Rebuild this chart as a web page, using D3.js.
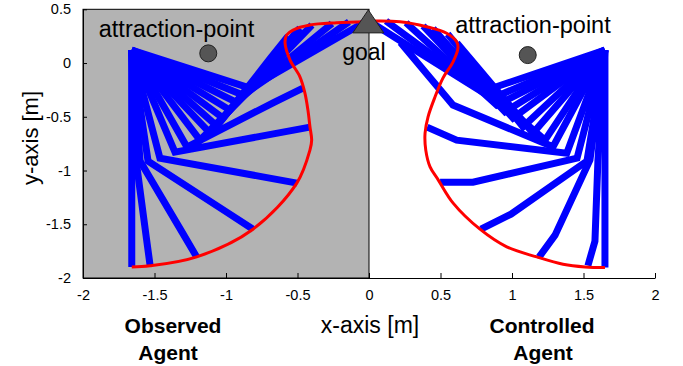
<!DOCTYPE html>
<html><head><meta charset="utf-8">
<script src="https://cdn.jsdelivr.net/npm/d3@7"></script>
<style>body{margin:0;background:#fff}svg{display:block}</style>
</head><body><svg id="c" width="683" height="366"></svg>
<script>
// ---- data ----
const xTicks = [-2, -1.5, -1, -0.5, 0, 0.5, 1, 1.5, 2];
const yTicks = [0.5, 0, -0.5, -1, -1.5, -2];

const leftBase = [-1.66, 0.121];
const leftElbows = [[-1.659,-0.903],[-1.629,-0.903],[-1.601,-0.912],[-1.545,-0.912],[-1.462,-0.885],[-1.357,-0.829],[-1.273,-0.782],[-1.182,-0.717],[-1.112,-0.652],[-1.063,-0.587],[-1.021,-0.512],[-0.972,-0.438],[-0.930,-0.363],[-0.881,-0.298],[-0.832,-0.233]];
const leftWrists = [[-1.659,-1.648],[-1.556,-1.636],[-1.304,-1.580],[-0.995,-1.387],[-0.743,-1.059],[-0.649,-0.654],[-0.664,-0.365],[-0.705,-0.079],[-0.718,-0.037],[-0.691,0.042],[-0.617,0.116],[-0.542,0.156],[-0.427,0.185],[-0.325,0.212],[-0.229,0.228]];
const leftEnds = [[-1.659,-1.897],[-1.531,-1.881],[-1.205,-1.804],[-0.811,-1.546],[-0.503,-1.117],[-0.413,-0.596],[-0.462,-0.233],[-0.545,0.009],[-0.587,0.168],[-0.566,0.251],[-0.483,0.326],[-0.399,0.354],[-0.259,0.368],[-0.140,0.382],[-0.028,0.382]];

const rightBase = [1.65, 0.121];
const rightElbows = [[1.650,-0.903],[1.601,-0.903],[1.545,-0.903],[1.524,-0.912],[1.455,-0.885],[1.383,-0.838],[1.287,-0.779],[1.231,-0.717],[1.147,-0.652],[1.077,-0.593],[1.007,-0.512],[0.951,-0.453],[0.893,-0.391],[0.858,-0.329],[0.788,-0.267]];
const rightWrists = [[1.650,-1.648],[1.580,-1.657],[1.301,-1.601],[0.993,-1.406],[0.727,-1.108],[0.613,-0.717],[0.587,-0.391],[0.748,-0.158],[0.748,-0.023],[0.682,0.054],[0.587,0.112],[0.521,0.145],[0.417,0.183],[0.303,0.211],[0.196,0.226]];
const rightEnds = [[1.650,-1.902],[1.531,-1.885],[1.189,-1.806],[0.783,-1.546],[0.497,-1.108],[0.406,-0.596],[0.220,0.190],[0.587,0.028],[0.615,0.186],[0.550,0.270],[0.448,0.320],[0.378,0.345],[0.259,0.375],[0.119,0.391],[0.000,0.391]];

const leftTrajectory = [[-1.659,-1.897],[-1.531,-1.887],[-1.205,-1.804],[-0.811,-1.546],[-0.506,-1.120],[-0.413,-0.810],[-0.401,-0.717],[-0.413,-0.593],[-0.427,-0.438],[-0.448,-0.279],[-0.483,-0.128],[-0.552,0.028],[-0.587,0.186],[-0.576,0.261],[-0.531,0.307],[-0.413,0.354],[-0.226,0.375],[-0.016,0.385]];
const rightTrajectory = [[0.007,0.391],[0.217,0.385],[0.403,0.338],[0.543,0.277],[0.613,0.198],[0.622,0.140],[0.587,0.009],[0.517,-0.140],[0.462,-0.314],[0.413,-0.500],[0.392,-0.652],[0.397,-0.810],[0.427,-0.966],[0.485,-1.089],[0.590,-1.306],[0.776,-1.546],[0.963,-1.710],[1.173,-1.804],[1.357,-1.872],[1.510,-1.897],[1.650,-1.902]];

const attractionPoints = [[-1.124, 0.090], [1.110, 0.074]];
const goalPoint = [-0.005, 0.355];

// ---- layout ----
const svg = d3.select("#c");
const x = d3.scaleLinear().domain([-2, 2]).range([83, 655]);
const y = d3.scaleLinear().domain([-2, 0.5]).range([278, 9.3]);
const FONT = "'Liberation Sans', Arial, Helvetica, sans-serif";

// observed-agent grey area
svg.append("rect")
  .attr("x", x(-2)).attr("y", y(0.5))
  .attr("width", x(0) - x(-2)).attr("height", y(-2) - y(0.5))
  .attr("fill", "#b3b3b3").attr("stroke", "#000").attr("stroke-width", 1);

// arms
const line = d3.line().x(d => x(d[0])).y(d => y(d[1]));
function drawArm(base, elbows, wrists, ends) {
  const g = svg.append("g");
  elbows.forEach((e, i) => {
    g.append("path")
      .attr("d", line([base, e, wrists[i], ends[i]]))
      .attr("fill", "none").attr("stroke", "#0000ff")
      .attr("stroke-width", 7).attr("stroke-linejoin", "miter")
      .attr("stroke-linecap", "butt");
  });
}
drawArm(leftBase, leftElbows, leftWrists, leftEnds);
drawArm(rightBase, rightElbows, rightWrists, rightEnds);

// trajectories
const curve = d3.line().x(d => x(d[0])).y(d => y(d[1])).curve(d3.curveCatmullRom.alpha(0.5));
[leftTrajectory, rightTrajectory].forEach(t => {
  svg.append("path").attr("d", curve(t)).attr("fill", "none")
    .attr("stroke", "#ff0000").attr("stroke-width", 3);
});

// attraction points
svg.selectAll("circle.ap").data(attractionPoints).join("circle")
  .attr("class", "ap").attr("cx", d => x(d[0])).attr("cy", d => y(d[1])).attr("r", 8.5)
  .attr("fill", "#555").attr("stroke", "#222").attr("stroke-width", 1);

// goal triangle
const gx = x(goalPoint[0]), gy = y(goalPoint[1]);
svg.append("path")
  .attr("d", `M${gx},${gy - 15}L${gx + 15.5},${gy + 8}L${gx - 15.5},${gy + 8}Z`)
  .attr("fill", "#555").attr("stroke", "#222").attr("stroke-width", 1);

// annotations
function txt(t, px, py, size, opts = {}) {
  const el = svg.append("text").attr("x", px).attr("y", py)
    .attr("text-anchor", opts.anchor || "middle")
    .attr("font-family", FONT).attr("font-size", size)
    .attr("font-weight", opts.bold ? "bold" : "normal").attr("fill", "#000").text(t);
  if (opts.rot) el.attr("transform", `rotate(${opts.rot},${px},${py})`);
  return el;
}
txt("attraction-point", 176.5, 37, 23.5);
txt("attraction-point", 533, 33, 23.5);
txt("goal", 364, 60, 23);
txt("y-axis [m]", 38, 138, 22, { rot: -90 });
txt("x-axis [m]", 370, 333, 23);
txt("Observed", 173, 333, 21, { bold: true });
txt("Agent", 168, 360, 21, { bold: true });
txt("Controlled", 542, 333, 21, { bold: true });
txt("Agent", 543, 360, 21, { bold: true });

// axes
const fmt = d => String(d);
const xAxis = svg.append("g").attr("transform", `translate(0,${y(-2)})`)
  .call(d3.axisBottom(x).tickValues(xTicks).tickFormat(fmt).tickSizeInner(-5).tickSizeOuter(0).tickPadding(12));
const yAxis = svg.append("g").attr("transform", `translate(${x(-2)},0)`)
  .call(d3.axisLeft(y).tickValues(yTicks).tickFormat(fmt).tickSizeInner(-4).tickSizeOuter(0).tickPadding(12));
[xAxis, yAxis].forEach(a => {
  a.selectAll("text").attr("font-family", FONT).attr("font-size", 14.5).attr("fill", "#000");
  a.select(".domain").attr("stroke", "#000");
  a.selectAll(".tick line").attr("stroke", "#000");
});
</script></body></html>
